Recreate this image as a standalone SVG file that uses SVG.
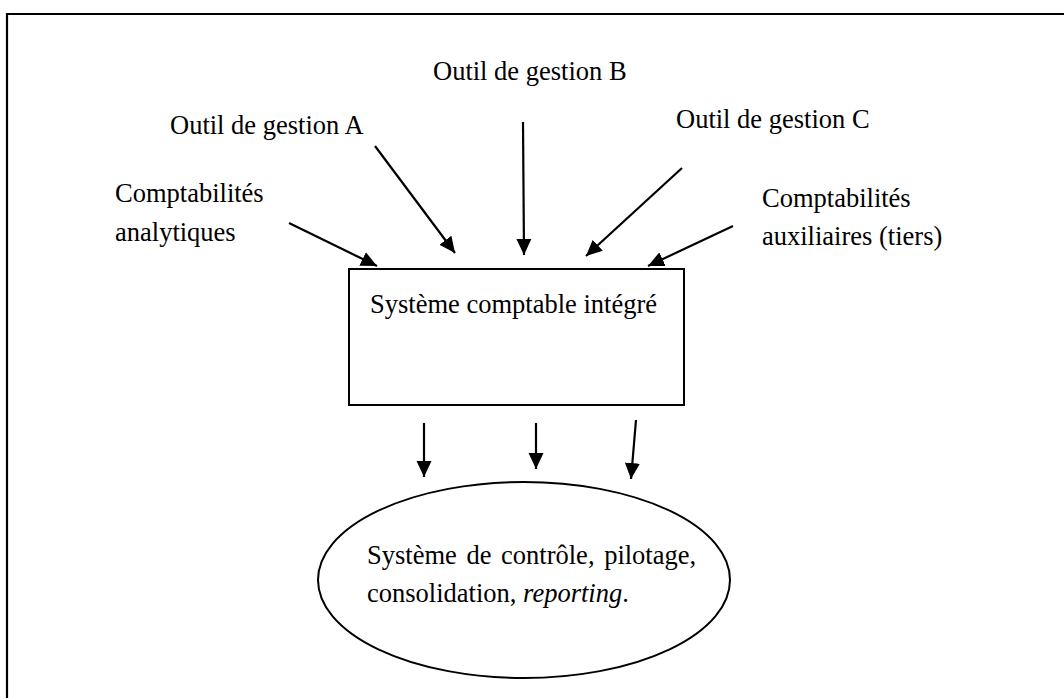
<svg xmlns="http://www.w3.org/2000/svg" width="1064" height="698" viewBox="0 0 1064 698">
<style>
text{font-family:"Liberation Serif","Times New Roman",serif;font-size:26.5px;fill:#000}
.conn{stroke:#000;stroke-width:2.2;fill:none;marker-end:url(#ah)}
.shape{fill:#fff;stroke:#000;stroke-width:2}
</style>
<defs>
<marker id="ah" markerUnits="userSpaceOnUse" markerWidth="16" markerHeight="16" viewBox="0 0 16 15" refX="16" refY="7.5" orient="auto">
<path d="M0,0 L16,7.5 L0,15 z" fill="#000"/>
</marker>
</defs>
<rect width="1064" height="698" fill="#fff"/>
<g id="frame">
<path d="M7,698 L7,14 L1064,14" fill="none" stroke="#000" stroke-width="2.2"/>
</g>
<g id="connectors">
<line class="conn" x1="289" y1="223" x2="377" y2="266"/>
<line class="conn" x1="375" y1="146" x2="455" y2="253"/>
<line class="conn" x1="523" y1="122" x2="524" y2="255"/>
<line class="conn" x1="682" y1="168" x2="586" y2="256"/>
<line class="conn" x1="733" y1="226" x2="648" y2="266"/>
<line class="conn" x1="424" y1="423" x2="424" y2="477"/>
<line class="conn" x1="536" y1="423" x2="536" y2="469"/>
<line class="conn" x1="636" y1="420" x2="631" y2="479"/>
</g>
<g id="label-analytiques">
<text x="115" y="202">Comptabilités</text>
<text x="115" y="241">analytiques</text>
</g>
<g id="label-outil-a">
<text x="170" y="134">Outil de gestion A</text>
</g>
<g id="label-outil-b">
<text x="433" y="80">Outil de gestion B</text>
</g>
<g id="label-outil-c">
<text x="676" y="128">Outil de gestion C</text>
</g>
<g id="label-auxiliaires">
<text x="762" y="207">Comptabilités</text>
<text x="762" y="245">auxiliaires (tiers)</text>
</g>
<g id="node-systeme-comptable">
<rect class="shape" x="349" y="269" width="335" height="136"/>
<text x="370" y="313">Système comptable intégré</text>
</g>
<g id="node-controle">
<ellipse class="shape" cx="524" cy="580" rx="206" ry="98"/>
<text x="367" y="564" word-spacing="3">Système de contrôle, pilotage,</text>
<text x="367" y="602">consolidation, <tspan font-style="italic">reporting</tspan>.</text>
</g>
</svg>
